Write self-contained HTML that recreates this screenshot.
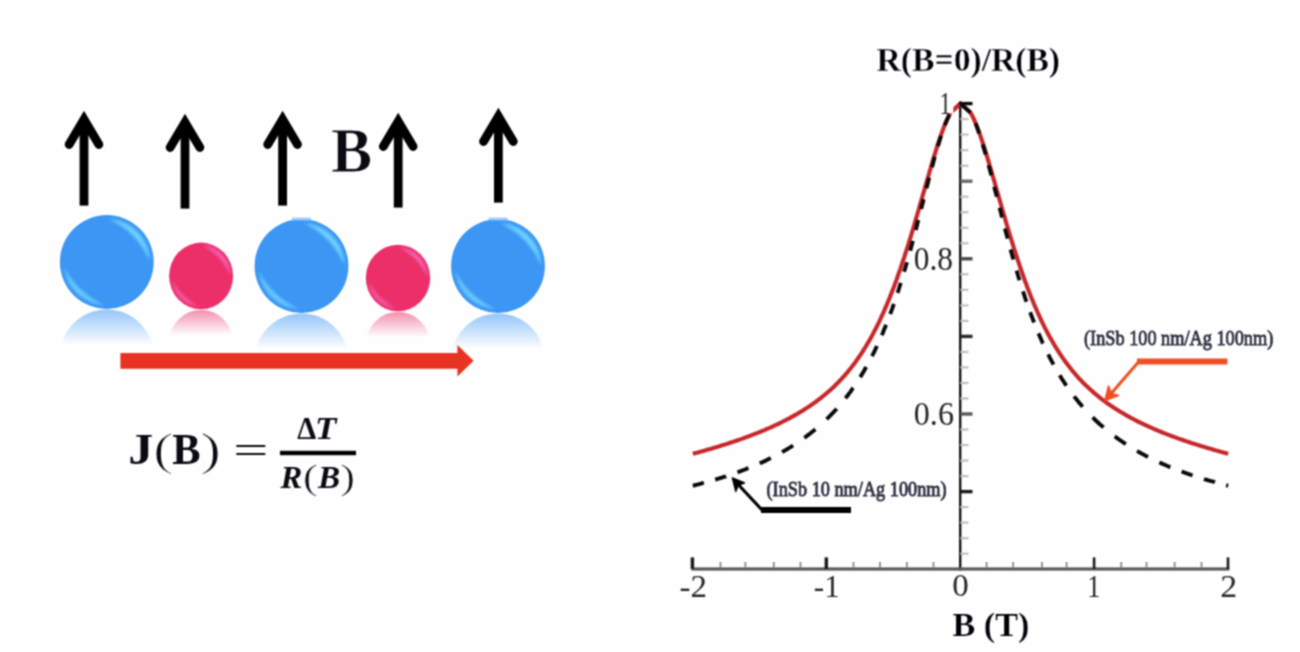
<!DOCTYPE html>
<html lang="en"><head><meta charset="utf-8"><title>Magnetoresistance figure</title>
<style>
html,body{margin:0;padding:0;background:#fefefe;}
body{width:1300px;height:652px;overflow:hidden;}
svg{display:block;}
#fig{width:1300px;height:652px;}
.s{font-family:"Liberation Serif","DejaVu Serif",serif;}
</style></head>
<body>
<div id="fig">
<svg width="1300" height="652" viewBox="0 0 1300 652">
<defs><filter id="bA" filterUnits="userSpaceOnUse" x="0" y="0" width="650" height="652" color-interpolation-filters="sRGB"><feConvolveMatrix order="3" kernelMatrix="1 2 1 2 4 2 1 2 1" divisor="16" edgeMode="duplicate" preserveAlpha="false"/></filter><filter id="bB" filterUnits="userSpaceOnUse" x="650" y="0" width="650" height="652" color-interpolation-filters="sRGB"><feConvolveMatrix order="3" kernelMatrix="1 2 1 2 4 2 1 2 1" divisor="16" edgeMode="duplicate" preserveAlpha="false"/></filter><filter id="bl" x="-20%" y="-20%" width="140%" height="140%" color-interpolation-filters="sRGB"><feGaussianBlur stdDeviation="1.5"/></filter><clipPath id="c0"><circle cx="106.8" cy="262" r="46.9"/></clipPath><linearGradient id="rf0" gradientUnits="userSpaceOnUse" x1="0" y1="308.9" x2="0" y2="344.9"><stop offset="0" stop-color="#3b96f4" stop-opacity="0.55"/><stop offset="1" stop-color="#3b96f4" stop-opacity="0"/></linearGradient><clipPath id="c1"><circle cx="201.1" cy="275.9" r="32.0"/></clipPath><linearGradient id="rf1" gradientUnits="userSpaceOnUse" x1="0" y1="307.9" x2="0" y2="332.9"><stop offset="0" stop-color="#ec2f69" stop-opacity="0.55"/><stop offset="1" stop-color="#ec2f69" stop-opacity="0"/></linearGradient><clipPath id="c2"><circle cx="301.5" cy="266" r="46.9"/></clipPath><linearGradient id="rf2" gradientUnits="userSpaceOnUse" x1="0" y1="312.9" x2="0" y2="348.9"><stop offset="0" stop-color="#3b96f4" stop-opacity="0.55"/><stop offset="1" stop-color="#3b96f4" stop-opacity="0"/></linearGradient><clipPath id="c3"><circle cx="398" cy="278" r="32.2"/></clipPath><linearGradient id="rf3" gradientUnits="userSpaceOnUse" x1="0" y1="310.2" x2="0" y2="335.2"><stop offset="0" stop-color="#ec2f69" stop-opacity="0.55"/><stop offset="1" stop-color="#ec2f69" stop-opacity="0"/></linearGradient><clipPath id="c4"><circle cx="498" cy="266" r="46.9"/></clipPath><linearGradient id="rf4" gradientUnits="userSpaceOnUse" x1="0" y1="312.9" x2="0" y2="348.9"><stop offset="0" stop-color="#3b96f4" stop-opacity="0.55"/><stop offset="1" stop-color="#3b96f4" stop-opacity="0"/></linearGradient></defs>
<rect width="1300" height="652" fill="#fefefe"/>
<g filter="url(#bA)">
<path d="M69.1,144.5 L84.0,119.4 L98.9,144.5" fill="none" stroke="#000" stroke-width="8.8" stroke-linecap="round" stroke-linejoin="miter"/><path d="M84.0,123.0 V205.6" fill="none" stroke="#000" stroke-width="8.8"/>
<path d="M170.1,147.5 L185.0,122.4 L199.9,147.5" fill="none" stroke="#000" stroke-width="8.8" stroke-linecap="round" stroke-linejoin="miter"/><path d="M185.0,126.0 V208.6" fill="none" stroke="#000" stroke-width="8.8"/>
<path d="M267.7,144.5 L282.6,119.4 L297.5,144.5" fill="none" stroke="#000" stroke-width="8.8" stroke-linecap="round" stroke-linejoin="miter"/><path d="M282.6,123.0 V205.6" fill="none" stroke="#000" stroke-width="8.8"/>
<path d="M383.3,146.5 L398.2,121.4 L413.1,146.5" fill="none" stroke="#000" stroke-width="8.8" stroke-linecap="round" stroke-linejoin="miter"/><path d="M398.2,125.0 V207.6" fill="none" stroke="#000" stroke-width="8.8"/>
<path d="M483.5,141.5 L498.4,116.4 L513.3,141.5" fill="none" stroke="#000" stroke-width="8.8" stroke-linecap="round" stroke-linejoin="miter"/><path d="M498.4,120.0 V202.6" fill="none" stroke="#000" stroke-width="8.8"/>
<g><circle cx="106.8" cy="262" r="46.9" fill="#3b96f4"/><g clip-path="url(#c0)" filter="url(#bl)"><path d="M109.0,219.1 L111.7,219.4 L114.4,219.8 L117.0,220.3 L119.6,221.0 L122.1,221.9 L124.6,223.0 L127.0,224.1 L129.3,225.5 L131.6,227.0 L133.7,228.6 L135.7,230.3 L137.7,232.2 L139.5,234.2 L141.1,236.3 L142.7,238.5 L144.1,240.8 L145.3,243.1 L146.4,245.6 L147.4,248.1 L148.2,250.7 L148.8,253.3 L149.3,255.9 L149.6,258.6 L149.7,261.3 L149.7,261.3 L148.7,259.0 L147.7,256.7 L146.6,254.4 L145.4,252.3 L144.1,250.1 L142.8,248.0 L141.4,245.9 L139.9,243.9 L138.4,241.9 L136.8,240.0 L135.2,238.1 L133.5,236.3 L131.7,234.5 L129.9,232.8 L128.0,231.1 L126.1,229.5 L124.1,228.0 L122.1,226.5 L120.0,225.1 L117.9,223.8 L115.7,222.5 L113.5,221.3 L111.3,220.2 L109.0,219.1Z" fill="#6ed0ff"/><path d="M104.6,304.9 L102.1,304.7 L99.6,304.3 L97.1,303.8 L94.7,303.2 L92.4,302.4 L90.0,301.5 L87.8,300.5 L85.6,299.3 L83.4,298.0 L81.4,296.6 L79.4,295.0 L77.5,293.4 L75.8,291.6 L74.1,289.8 L72.5,287.8 L71.1,285.8 L69.8,283.7 L68.6,281.5 L67.5,279.2 L66.6,276.9 L65.8,274.5 L65.1,272.1 L64.6,269.7 L64.2,267.2 L64.2,267.2 L65.3,269.3 L66.4,271.4 L67.6,273.4 L68.9,275.4 L70.2,277.3 L71.5,279.2 L73.0,281.1 L74.5,282.9 L76.0,284.7 L77.6,286.4 L79.2,288.1 L80.9,289.7 L82.7,291.3 L84.5,292.8 L86.3,294.3 L88.2,295.7 L90.1,297.1 L92.1,298.4 L94.1,299.6 L96.1,300.8 L98.2,301.9 L100.3,302.9 L102.4,303.9 L104.6,304.9Z" fill="#6ed0ff" opacity="0.9"/></g><circle cx="106.8" cy="356.40000000000003" r="46.9" fill="url(#rf0)"/></g>
<g transform="translate(201.1,275.9) scale(1,1.04) translate(-201.1,-275.9)"><circle cx="201.1" cy="275.9" r="32.0" fill="#ec2f69"/><g clip-path="url(#c1)" filter="url(#bl)"><path d="M202.6,246.7 L204.5,246.8 L206.3,247.1 L208.1,247.5 L209.8,247.9 L211.6,248.5 L213.2,249.3 L214.9,250.1 L216.5,251.0 L218.0,252.0 L219.5,253.1 L220.8,254.3 L222.2,255.6 L223.4,256.9 L224.5,258.3 L225.6,259.8 L226.5,261.4 L227.4,263.0 L228.2,264.7 L228.8,266.4 L229.3,268.2 L229.8,269.9 L230.1,271.7 L230.3,273.6 L230.4,275.4 L230.4,275.4 L229.7,273.8 L229.0,272.3 L228.2,270.7 L227.4,269.2 L226.6,267.8 L225.6,266.3 L224.7,264.9 L223.7,263.5 L222.7,262.2 L221.6,260.9 L220.4,259.6 L219.3,258.3 L218.1,257.1 L216.8,256.0 L215.6,254.8 L214.2,253.7 L212.9,252.7 L211.5,251.7 L210.1,250.7 L208.7,249.8 L207.2,249.0 L205.7,248.2 L204.2,247.4 L202.6,246.7Z" fill="#f564b8"/><path d="M199.6,305.1 L197.9,305.0 L196.2,304.8 L194.5,304.4 L192.9,304.0 L191.2,303.5 L189.7,302.9 L188.1,302.1 L186.6,301.3 L185.2,300.5 L183.8,299.5 L182.4,298.4 L181.1,297.3 L179.9,296.1 L178.8,294.9 L177.7,293.5 L176.7,292.1 L175.8,290.7 L175.0,289.2 L174.3,287.7 L173.6,286.1 L173.1,284.5 L172.6,282.8 L172.3,281.2 L172.0,279.5 L172.0,279.5 L172.8,280.9 L173.5,282.3 L174.4,283.7 L175.2,285.0 L176.1,286.4 L177.0,287.7 L178.0,288.9 L179.0,290.2 L180.1,291.4 L181.2,292.6 L182.3,293.7 L183.4,294.8 L184.6,295.9 L185.9,296.9 L187.1,297.9 L188.4,298.9 L189.7,299.8 L191.0,300.7 L192.4,301.6 L193.8,302.4 L195.2,303.1 L196.6,303.8 L198.1,304.5 L199.6,305.1Z" fill="#f564b8" opacity="0.9"/></g><circle cx="201.1" cy="340.5" r="32.0" fill="url(#rf1)"/></g>
<g><circle cx="301.5" cy="266" r="46.9" fill="#3b96f4"/><g clip-path="url(#c2)" filter="url(#bl)"><path d="M303.7,223.1 L306.4,223.4 L309.1,223.8 L311.7,224.3 L314.3,225.0 L316.8,225.9 L319.3,227.0 L321.7,228.1 L324.0,229.5 L326.3,231.0 L328.4,232.6 L330.4,234.3 L332.4,236.2 L334.2,238.2 L335.8,240.3 L337.4,242.5 L338.8,244.8 L340.0,247.1 L341.1,249.6 L342.1,252.1 L342.9,254.7 L343.5,257.3 L344.0,259.9 L344.3,262.6 L344.4,265.3 L344.4,265.3 L343.4,263.0 L342.4,260.7 L341.3,258.4 L340.1,256.3 L338.8,254.1 L337.5,252.0 L336.1,249.9 L334.6,247.9 L333.1,245.9 L331.5,244.0 L329.9,242.1 L328.2,240.3 L326.4,238.5 L324.6,236.8 L322.7,235.1 L320.8,233.5 L318.8,232.0 L316.8,230.5 L314.7,229.1 L312.6,227.8 L310.4,226.5 L308.2,225.3 L306.0,224.2 L303.7,223.1Z" fill="#6ed0ff"/><path d="M299.3,308.9 L296.8,308.7 L294.3,308.3 L291.8,307.8 L289.4,307.2 L287.1,306.4 L284.7,305.5 L282.5,304.5 L280.3,303.3 L278.1,302.0 L276.1,300.6 L274.1,299.0 L272.2,297.4 L270.5,295.6 L268.8,293.8 L267.2,291.8 L265.8,289.8 L264.5,287.7 L263.3,285.5 L262.2,283.2 L261.3,280.9 L260.5,278.5 L259.8,276.1 L259.3,273.7 L258.9,271.2 L258.9,271.2 L260.0,273.3 L261.1,275.4 L262.3,277.4 L263.6,279.4 L264.9,281.3 L266.2,283.2 L267.7,285.1 L269.2,286.9 L270.7,288.7 L272.3,290.4 L273.9,292.1 L275.6,293.7 L277.4,295.3 L279.2,296.8 L281.0,298.3 L282.9,299.7 L284.8,301.1 L286.8,302.4 L288.8,303.6 L290.8,304.8 L292.9,305.9 L295.0,306.9 L297.1,307.9 L299.3,308.9Z" fill="#6ed0ff" opacity="0.9"/></g><circle cx="301.5" cy="360.40000000000003" r="46.9" fill="url(#rf2)"/></g>
<g transform="translate(398,278) scale(1,1.03) translate(-398,-278)"><circle cx="398" cy="278" r="32.2" fill="#ec2f69"/><g clip-path="url(#c3)" filter="url(#bl)"><path d="M399.5,248.6 L401.4,248.7 L403.2,249.0 L405.0,249.4 L406.8,249.9 L408.5,250.5 L410.2,251.2 L411.9,252.0 L413.5,252.9 L415.0,253.9 L416.5,255.0 L417.9,256.2 L419.2,257.5 L420.4,258.9 L421.6,260.3 L422.6,261.8 L423.6,263.4 L424.5,265.0 L425.2,266.7 L425.9,268.4 L426.4,270.2 L426.8,272.0 L427.2,273.8 L427.4,275.6 L427.5,277.5 L427.5,277.5 L426.8,275.9 L426.1,274.3 L425.3,272.8 L424.5,271.3 L423.6,269.8 L422.7,268.4 L421.7,266.9 L420.7,265.6 L419.7,264.2 L418.6,262.9 L417.5,261.6 L416.3,260.3 L415.1,259.1 L413.8,257.9 L412.6,256.8 L411.2,255.7 L409.9,254.7 L408.5,253.6 L407.1,252.7 L405.6,251.8 L404.1,250.9 L402.6,250.1 L401.1,249.3 L399.5,248.6Z" fill="#f564b8"/><path d="M396.5,307.4 L394.7,307.3 L393.1,307.0 L391.4,306.7 L389.7,306.3 L388.1,305.7 L386.5,305.1 L384.9,304.4 L383.4,303.6 L382.0,302.7 L380.5,301.7 L379.2,300.7 L377.9,299.5 L376.7,298.3 L375.5,297.1 L374.5,295.7 L373.5,294.3 L372.6,292.9 L371.7,291.4 L371.0,289.8 L370.4,288.2 L369.8,286.6 L369.4,285.0 L369.0,283.3 L368.8,281.6 L368.8,281.6 L369.5,283.0 L370.3,284.4 L371.1,285.8 L372.0,287.2 L372.9,288.5 L373.8,289.8 L374.8,291.1 L375.8,292.4 L376.9,293.6 L377.9,294.8 L379.1,295.9 L380.2,297.0 L381.4,298.1 L382.7,299.2 L383.9,300.2 L385.2,301.2 L386.5,302.1 L387.9,303.0 L389.2,303.8 L390.6,304.6 L392.1,305.4 L393.5,306.1 L395.0,306.8 L396.5,307.4Z" fill="#f564b8" opacity="0.9"/></g><circle cx="398" cy="343.0" r="32.2" fill="url(#rf3)"/></g>
<g><circle cx="498" cy="266" r="46.9" fill="#3b96f4"/><g clip-path="url(#c4)" filter="url(#bl)"><path d="M500.2,223.1 L502.9,223.4 L505.6,223.8 L508.2,224.3 L510.8,225.0 L513.3,225.9 L515.8,227.0 L518.2,228.1 L520.5,229.5 L522.8,231.0 L524.9,232.6 L526.9,234.3 L528.9,236.2 L530.7,238.2 L532.3,240.3 L533.9,242.5 L535.3,244.8 L536.5,247.1 L537.6,249.6 L538.6,252.1 L539.4,254.7 L540.0,257.3 L540.5,259.9 L540.8,262.6 L540.9,265.3 L540.9,265.3 L539.9,263.0 L538.9,260.7 L537.8,258.4 L536.6,256.3 L535.3,254.1 L534.0,252.0 L532.6,249.9 L531.1,247.9 L529.6,245.9 L528.0,244.0 L526.4,242.1 L524.7,240.3 L522.9,238.5 L521.1,236.8 L519.2,235.1 L517.3,233.5 L515.3,232.0 L513.3,230.5 L511.2,229.1 L509.1,227.8 L506.9,226.5 L504.7,225.3 L502.5,224.2 L500.2,223.1Z" fill="#6ed0ff"/><path d="M495.8,308.9 L493.3,308.7 L490.8,308.3 L488.3,307.8 L485.9,307.2 L483.6,306.4 L481.2,305.5 L479.0,304.5 L476.8,303.3 L474.6,302.0 L472.6,300.6 L470.6,299.0 L468.7,297.4 L467.0,295.6 L465.3,293.8 L463.7,291.8 L462.3,289.8 L461.0,287.7 L459.8,285.5 L458.7,283.2 L457.8,280.9 L457.0,278.5 L456.3,276.1 L455.8,273.7 L455.4,271.2 L455.4,271.2 L456.5,273.3 L457.6,275.4 L458.8,277.4 L460.1,279.4 L461.4,281.3 L462.7,283.2 L464.2,285.1 L465.7,286.9 L467.2,288.7 L468.8,290.4 L470.4,292.1 L472.1,293.7 L473.9,295.3 L475.7,296.8 L477.5,298.3 L479.4,299.7 L481.3,301.1 L483.3,302.4 L485.3,303.6 L487.3,304.8 L489.4,305.9 L491.5,306.9 L493.6,307.9 L495.8,308.9Z" fill="#6ed0ff" opacity="0.9"/></g><circle cx="498" cy="360.40000000000003" r="46.9" fill="url(#rf4)"/></g>
<rect x="277.5" y="215" width="48" height="5.1" fill="#fefefe"/><rect x="292.0" y="217.6" width="19" height="2.6" fill="#9ccdf9"/>
<rect x="474.0" y="215" width="48" height="5.1" fill="#fefefe"/><rect x="488.5" y="217.6" width="19" height="2.6" fill="#9ccdf9"/>
<path d="M120.4,353 H457.4 V345 L473.6,360.8 L457.4,376.5 V368.7 H120.4 Z" fill="#e83222"/>
<text transform="translate(331.02,172.45) scale(0.9655,1)" font-size="63.97" font-weight="bold" class="s" fill="#0a0a12" stroke="#fefefe" stroke-width="0.90">B</text>
<text transform="translate(128.25,464.45) scale(1.1186,1)" font-size="44.70" font-weight="bold" class="s" fill="#0a0a12">J</text><text transform="translate(152.94,465.46) scale(1.3235,1)" font-size="47.11" class="s" fill="#0a0a12" stroke="#fefefe" stroke-width="1.10">(</text><text transform="translate(172.26,464.30) scale(0.9610,1)" font-size="44.12" font-weight="bold" class="s" fill="#0a0a12">B</text><text transform="translate(200.18,465.40) scale(1.3288,1)" font-size="46.89" class="s" fill="#0a0a12" stroke="#fefefe" stroke-width="0.90">)</text><text transform="translate(233.19,462.71) scale(1.6529,1)" font-size="37.60" class="s" fill="#0a0a12">=</text><rect x="280" y="450.8" width="76" height="4.4" fill="#000"/><text transform="translate(297.15,439.00) scale(0.9573,1)" font-size="31.60" font-weight="bold" class="s" fill="#0a0a12">Δ</text><text transform="translate(315.07,439.00) scale(1.1018,1)" font-size="31.85" font-weight="bold" font-style="italic" class="s" fill="#0a0a12">T</text><text transform="translate(280.40,488.00) scale(1.0268,1)" font-size="31.85" font-weight="bold" font-style="italic" class="s" fill="#0a0a12">R</text><text transform="translate(302.77,489.09) scale(1.2854,1)" font-size="36.00" class="s" fill="#0a0a12" stroke="#fefefe" stroke-width="0.70">(</text><text transform="translate(318.03,488.00) scale(1.0531,1)" font-size="31.60" font-weight="bold" font-style="italic" class="s" fill="#0a0a12">B</text><text transform="translate(340.09,489.09) scale(1.2607,1)" font-size="36.00" class="s" fill="#0a0a12" stroke="#fefefe" stroke-width="0.70">)</text>
</g>
<g filter="url(#bB)">
<text transform="translate(876.58,71.43) scale(0.9691,1)" font-size="34.71" font-weight="bold" class="s" fill="#000008" stroke="#fefefe" stroke-width="0.44">R(B=0)/R(B)</text><text transform="translate(952.47,635.60) scale(0.9941,1)" font-size="34.38" font-weight="bold" class="s" fill="#000008" stroke="#fefefe" stroke-width="0.24">B (T)</text><rect x="959.00" y="102" width="2.4" height="468.5" fill="#141414"/><rect x="691.4" y="567.4" width="538" height="3.2" fill="#5a5a5a"/><rect x="960.2" y="101.9" width="12.3" height="3.4" fill="#0a0a0a"/><rect x="960.2" y="118.0" width="8.2" height="2.2" fill="#c0c0c0"/><rect x="960.2" y="133.5" width="8.2" height="2.2" fill="#c0c0c0"/><rect x="960.2" y="149.1" width="8.2" height="2.2" fill="#c0c0c0"/><rect x="960.2" y="164.6" width="8.2" height="2.2" fill="#c0c0c0"/><rect x="960.2" y="179.5" width="12.3" height="3.4" fill="#6a6a6a"/><rect x="960.2" y="195.6" width="8.2" height="2.2" fill="#c0c0c0"/><rect x="960.2" y="211.1" width="8.2" height="2.2" fill="#c0c0c0"/><rect x="960.2" y="226.7" width="8.2" height="2.2" fill="#c0c0c0"/><rect x="960.2" y="242.2" width="8.2" height="2.2" fill="#c0c0c0"/><rect x="960.2" y="257.1" width="12.3" height="3.4" fill="#4a4a4a"/><rect x="960.2" y="273.2" width="8.2" height="2.2" fill="#c0c0c0"/><rect x="960.2" y="288.7" width="8.2" height="2.2" fill="#c0c0c0"/><rect x="960.2" y="304.3" width="8.2" height="2.2" fill="#c0c0c0"/><rect x="960.2" y="319.8" width="8.2" height="2.2" fill="#c0c0c0"/><rect x="960.2" y="334.7" width="12.3" height="3.4" fill="#2a2a2a"/><rect x="960.2" y="350.8" width="8.2" height="2.2" fill="#c0c0c0"/><rect x="960.2" y="366.3" width="8.2" height="2.2" fill="#c0c0c0"/><rect x="960.2" y="381.9" width="8.2" height="2.2" fill="#c0c0c0"/><rect x="960.2" y="397.4" width="8.2" height="2.2" fill="#c0c0c0"/><rect x="960.2" y="412.3" width="12.3" height="3.4" fill="#5a5a5a"/><rect x="960.2" y="428.4" width="8.2" height="2.2" fill="#c0c0c0"/><rect x="960.2" y="443.9" width="8.2" height="2.2" fill="#c0c0c0"/><rect x="960.2" y="459.5" width="8.2" height="2.2" fill="#c0c0c0"/><rect x="960.2" y="475.0" width="8.2" height="2.2" fill="#c0c0c0"/><rect x="960.2" y="489.9" width="12.3" height="3.4" fill="#1a1a1a"/><rect x="960.2" y="506.0" width="8.2" height="2.2" fill="#c0c0c0"/><rect x="960.2" y="521.5" width="8.2" height="2.2" fill="#c0c0c0"/><rect x="960.2" y="537.1" width="8.2" height="2.2" fill="#c0c0c0"/><rect x="960.2" y="552.6" width="8.2" height="2.2" fill="#c0c0c0"/><rect x="690.7" y="557.4" width="3.4" height="11.5" fill="#1a1a1a"/><rect x="824.6" y="557.4" width="3.4" height="11.5" fill="#1a1a1a"/><rect x="1092.8" y="557.4" width="2.6" height="11.5" fill="#1a1a1a"/><rect x="1226.7" y="557.4" width="2.6" height="11.5" fill="#1a1a1a"/><rect x="719.6" y="562" width="1.8" height="6" fill="#8a8a8a"/><rect x="744.5" y="562" width="1.8" height="6" fill="#8a8a8a"/><rect x="772.9" y="562" width="1.8" height="6" fill="#8a8a8a"/><rect x="799.6" y="562" width="1.8" height="6" fill="#8a8a8a"/><rect x="852.6" y="562" width="1.8" height="6" fill="#8a8a8a"/><rect x="879.1" y="562" width="1.8" height="6" fill="#8a8a8a"/><rect x="906.0" y="562" width="1.8" height="6" fill="#8a8a8a"/><rect x="932.6" y="562" width="1.8" height="6" fill="#8a8a8a"/><rect x="985.7" y="562" width="1.8" height="6" fill="#8a8a8a"/><rect x="1012.2" y="562" width="1.8" height="6" fill="#8a8a8a"/><rect x="1041.1" y="562" width="1.8" height="6" fill="#8a8a8a"/><rect x="1065.7" y="562" width="1.8" height="6" fill="#8a8a8a"/><rect x="1120.3" y="562" width="1.8" height="6" fill="#8a8a8a"/><rect x="1145.6" y="562" width="1.8" height="6" fill="#8a8a8a"/><rect x="1173.7" y="562" width="1.8" height="6" fill="#8a8a8a"/><rect x="1200.6" y="562" width="1.8" height="6" fill="#8a8a8a"/><text transform="translate(913.81,270.41) scale(0.9485,1)" font-size="33.12" class="s" fill="#262626">0.8</text><text transform="translate(913.80,425.41) scale(0.9662,1)" font-size="33.26" class="s" fill="#262626">0.6</text><text transform="translate(679.56,597.03) scale(1.0181,1)" font-size="32.35" class="s" fill="#262626">-2</text><text transform="translate(813.81,597.03) scale(0.9522,1)" font-size="32.60" class="s" fill="#262626">-1</text><text transform="translate(952.36,596.42) scale(1.0565,1)" font-size="31.20" class="s" fill="#262626">0</text><text transform="translate(1087.23,597.00) scale(0.8083,1)" font-size="32.52" class="s" fill="#262626">1</text><text transform="translate(1220.15,597.03) scale(1.0473,1)" font-size="32.35" class="s" fill="#262626">2</text><path d="M692.8,453.8 L694.1,453.4 L695.5,453.1 L696.8,452.7 L698.2,452.4 L699.5,452.0 L700.8,451.6 L702.2,451.2 L703.5,450.9 L704.8,450.5 L706.2,450.1 L707.5,449.7 L708.9,449.3 L710.2,449.0 L711.5,448.6 L712.9,448.2 L714.2,447.8 L715.6,447.4 L716.9,447.0 L718.2,446.6 L719.6,446.2 L720.9,445.7 L722.2,445.3 L723.6,444.9 L724.9,444.5 L726.3,444.1 L727.6,443.6 L728.9,443.2 L730.3,442.7 L731.6,442.3 L733.0,441.9 L734.3,441.4 L735.6,441.0 L737.0,440.5 L738.3,440.0 L739.6,439.6 L741.0,439.1 L742.3,438.6 L743.7,438.2 L745.0,437.7 L746.3,437.2 L747.7,436.7 L749.0,436.2 L750.4,435.7 L751.7,435.2 L753.0,434.7 L754.4,434.1 L755.7,433.6 L757.0,433.1 L758.4,432.6 L759.7,432.0 L761.1,431.5 L762.4,430.9 L763.7,430.4 L765.1,429.8 L766.4,429.2 L767.8,428.6 L769.1,428.1 L770.4,427.5 L771.8,426.9 L773.1,426.3 L774.4,425.7 L775.8,425.0 L777.1,424.4 L778.5,423.8 L779.8,423.1 L781.1,422.5 L782.5,421.8 L783.8,421.1 L785.2,420.5 L786.5,419.8 L787.8,419.1 L789.2,418.4 L790.5,417.6 L791.8,416.9 L793.2,416.2 L794.5,415.4 L795.9,414.7 L797.2,413.9 L798.5,413.1 L799.9,412.3 L801.2,411.5 L802.6,410.7 L803.9,409.8 L805.2,409.0 L806.6,408.1 L807.9,407.3 L809.2,406.4 L810.6,405.5 L811.9,404.5 L813.3,403.6 L814.6,402.6 L815.9,401.7 L817.3,400.7 L818.6,399.7 L820.0,398.6 L821.3,397.6 L822.6,396.5 L824.0,395.4 L825.3,394.3 L826.6,393.2 L828.0,392.0 L829.3,390.9 L830.7,389.7 L832.0,388.4 L833.3,387.2 L834.7,385.9 L836.0,384.6 L837.4,383.3 L838.7,381.9 L840.0,380.5 L841.4,379.1 L842.7,377.6 L844.1,376.1 L845.4,374.6 L846.7,373.1 L848.1,371.5 L849.4,369.8 L850.7,368.2 L852.1,366.5 L853.4,364.7 L854.8,362.9 L856.1,361.1 L857.4,359.2 L858.8,357.3 L860.1,355.4 L861.5,353.4 L862.8,351.3 L864.1,349.2 L865.5,347.0 L866.8,344.8 L868.1,342.6 L869.5,340.2 L870.8,337.9 L872.2,335.4 L873.5,332.9 L874.8,330.4 L876.2,327.8 L877.5,325.1 L878.9,322.3 L880.2,319.5 L881.5,316.7 L882.9,313.7 L884.2,310.7 L885.5,307.6 L886.9,304.5 L888.2,301.3 L889.6,298.0 L890.9,294.6 L892.2,291.2 L893.6,287.7 L894.9,284.1 L896.3,280.4 L897.6,276.7 L898.9,272.9 L900.3,269.1 L901.6,265.1 L902.9,261.1 L904.3,257.1 L905.6,252.9 L907.0,248.7 L908.3,244.5 L909.6,240.1 L911.0,235.8 L912.3,231.3 L913.7,226.9 L915.0,222.3 L916.3,217.8 L917.7,213.2 L919.0,208.5 L920.3,203.9 L921.7,199.2 L923.0,194.5 L924.4,189.8 L925.7,185.1 L927.0,180.5 L928.4,175.8 L929.7,171.2 L931.1,166.6 L932.4,162.1 L933.7,157.6 L935.1,153.2 L936.4,148.9 L937.7,144.7 L939.1,140.6 L940.4,136.6 L941.8,132.8 L943.1,129.2 L944.4,125.7 L945.8,122.4 L947.1,119.3 L948.5,116.5 L949.8,113.9 L950.5,112.6 L951.1,112.0 L952.5,110.8 L953.8,109.6 L955.1,108.4 L956.5,107.2 L957.8,106.0 L959.2,104.8 L960.5,103.6 L960.5,103.6 L961.8,104.8 L963.2,106.0 L964.5,107.2 L965.9,108.4 L967.2,109.6 L968.5,110.7 L969.9,111.9 L970.5,112.6 L971.2,113.7 L972.5,116.3 L973.9,119.1 L975.2,122.2 L976.6,125.4 L977.9,128.9 L979.2,132.5 L980.6,136.3 L981.9,140.3 L983.3,144.4 L984.6,148.6 L985.9,152.9 L987.3,157.3 L988.6,161.7 L989.9,166.3 L991.3,170.8 L992.6,175.5 L994.0,180.1 L995.3,184.8 L996.6,189.5 L998.0,194.2 L999.3,198.9 L1000.7,203.5 L1002.0,208.2 L1003.3,212.8 L1004.7,217.4 L1006.0,222.0 L1007.3,226.5 L1008.7,231.0 L1010.0,235.4 L1011.4,239.8 L1012.7,244.1 L1014.0,248.4 L1015.4,252.6 L1016.7,256.7 L1018.1,260.8 L1019.4,264.8 L1020.7,268.8 L1022.1,272.6 L1023.4,276.4 L1024.7,280.2 L1026.1,283.8 L1027.4,287.4 L1028.8,290.9 L1030.1,294.4 L1031.4,297.7 L1032.8,301.0 L1034.1,304.2 L1035.5,307.4 L1036.8,310.5 L1038.1,313.5 L1039.5,316.4 L1040.8,319.3 L1042.1,322.1 L1043.5,324.9 L1044.8,327.6 L1046.2,330.2 L1047.5,332.7 L1048.8,335.2 L1050.2,337.7 L1051.5,340.1 L1052.9,342.4 L1054.2,344.7 L1055.5,346.9 L1056.9,349.0 L1058.2,351.1 L1059.5,353.2 L1060.9,355.2 L1062.2,357.2 L1063.6,359.1 L1064.9,361.0 L1066.2,362.8 L1067.6,364.6 L1068.9,366.3 L1070.3,368.1 L1071.6,369.7 L1072.9,371.4 L1074.3,372.9 L1075.6,374.5 L1076.9,376.0 L1078.3,377.5 L1079.6,379.0 L1081.0,380.4 L1082.3,381.8 L1083.6,383.2 L1085.0,384.5 L1086.3,385.8 L1087.7,387.1 L1089.0,388.3 L1090.3,389.6 L1091.7,390.8 L1093.0,391.9 L1094.3,393.1 L1095.7,394.2 L1097.0,395.3 L1098.4,396.4 L1099.7,397.5 L1101.0,398.6 L1102.4,399.6 L1103.7,400.6 L1105.1,401.6 L1106.4,402.6 L1107.7,403.5 L1109.1,404.5 L1110.4,405.4 L1111.8,406.3 L1113.1,407.2 L1114.4,408.1 L1115.8,408.9 L1117.1,409.8 L1118.4,410.6 L1119.8,411.4 L1121.1,412.3 L1122.5,413.0 L1123.8,413.8 L1125.1,414.6 L1126.5,415.4 L1127.8,416.1 L1129.2,416.9 L1130.5,417.6 L1131.8,418.3 L1133.2,419.0 L1134.5,419.7 L1135.8,420.4 L1137.2,421.1 L1138.5,421.8 L1139.9,422.4 L1141.2,423.1 L1142.5,423.7 L1143.9,424.4 L1145.2,425.0 L1146.6,425.6 L1147.9,426.2 L1149.2,426.8 L1150.6,427.4 L1151.9,428.0 L1153.2,428.6 L1154.6,429.2 L1155.9,429.8 L1157.3,430.3 L1158.6,430.9 L1159.9,431.4 L1161.3,432.0 L1162.6,432.5 L1164.0,433.1 L1165.3,433.6 L1166.6,434.1 L1168.0,434.6 L1169.3,435.1 L1170.6,435.6 L1172.0,436.2 L1173.3,436.6 L1174.7,437.1 L1176.0,437.6 L1177.3,438.1 L1178.7,438.6 L1180.0,439.1 L1181.4,439.5 L1182.7,440.0 L1184.0,440.5 L1185.4,440.9 L1186.7,441.4 L1188.0,441.8 L1189.4,442.3 L1190.7,442.7 L1192.1,443.2 L1193.4,443.6 L1194.7,444.0 L1196.1,444.4 L1197.4,444.9 L1198.8,445.3 L1200.1,445.7 L1201.4,446.1 L1202.8,446.5 L1204.1,446.9 L1205.4,447.3 L1206.8,447.7 L1208.1,448.1 L1209.5,448.5 L1210.8,448.9 L1212.1,449.3 L1213.5,449.7 L1214.8,450.1 L1216.2,450.5 L1217.5,450.8 L1218.8,451.2 L1220.2,451.6 L1221.5,452.0 L1222.8,452.3 L1224.2,452.7 L1225.5,453.1 L1226.9,453.4 L1228.2,453.8" fill="none" stroke="#c6282b" stroke-width="4.1" stroke-linejoin="miter"/><path d="M692.8,485.7 L693.9,485.5 L694.9,485.2 L696.0,484.9 L697.1,484.6 L698.2,484.4 L699.2,484.1 L700.3,483.8 L701.4,483.5 L702.4,483.2 L703.5,482.9 L703.9,482.8M715.2,479.6 L716.2,479.3 L717.3,479.0 L718.4,478.7 L719.4,478.3 L720.5,478.0 L721.6,477.7 L722.6,477.3 L723.7,477.0 L724.8,476.6 L725.9,476.3 L726.1,476.2M737.5,472.3 L738.6,471.9 L739.6,471.5 L740.7,471.1 L741.8,470.7 L742.9,470.3 L743.9,469.9 L745.0,469.5 L746.1,469.0 L747.1,468.6 L748.2,468.2 L748.5,468.1M759.7,463.3 L760.8,462.8 L761.9,462.4 L762.9,461.9 L764.0,461.4 L765.1,460.9 L766.1,460.4 L767.2,459.8 L768.3,459.3 L769.4,458.8 L770.4,458.3 L770.8,458.1M782.1,452.1 L783.1,451.5 L784.2,450.9 L785.3,450.3 L786.4,449.6 L787.4,449.0 L788.5,448.4 L789.6,447.7 L790.6,447.1 L791.7,446.4 L792.8,445.7 L793.1,445.5M804.4,437.8 L805.5,437.0 L806.6,436.2 L807.6,435.4 L808.7,434.6 L809.8,433.8 L810.9,432.9 L811.9,432.1 L813.0,431.2 L814.1,430.4 L815.1,429.5 L815.4,429.3M826.6,419.2 L827.7,418.1 L828.8,417.1 L829.9,416.0 L830.9,414.9 L832.0,413.8 L833.1,412.7 L834.1,411.5 L835.2,410.4 L836.3,409.2 L836.7,408.7M845.5,398.2 L846.6,396.8 L847.7,395.5 L848.7,394.0 L849.8,392.6 L850.9,391.1 L851.9,389.6 L853.0,388.1 L853.2,387.9M860.2,377.1 L861.3,375.4 L862.4,373.6 L863.5,371.8 L864.5,370.0 L865.6,368.1 L866.3,366.9M872.0,356.2 L873.1,354.0 L874.2,351.9 L875.2,349.7 L876.3,347.4 L877.0,346.0M881.8,335.2 L882.9,332.7 L883.9,330.1 L885.0,327.5 L886.1,324.8 L886.1,324.8M890.2,314.0 L891.3,311.1 L892.4,308.1 L893.4,305.1 L893.8,303.9M897.6,292.8 L898.7,289.5 L899.7,286.2 L900.8,282.8 L900.8,282.8M904.1,271.8 L905.2,268.2 L906.3,264.5 L907.0,262.2M910.2,250.8 L911.2,246.9 L912.3,242.9 L912.8,240.9M915.8,229.9 L916.9,225.8 L917.9,221.6 L918.3,220.1M921.1,209.1 L922.2,204.9 L923.3,200.7 L923.7,199.2M926.5,188.2 L927.6,184.0 L928.6,179.9 L929.2,177.8M932.0,167.1 L933.1,163.2 L934.1,159.2 L934.8,156.8M937.9,146.1 L939.0,142.6 L940.0,139.2 L941.1,135.8 L941.1,135.8M944.8,125.2 L945.9,122.5 L947.0,120.0 L948.1,117.6 L949.1,115.3 L949.4,114.8M959.6,104.5 L960.5,103.6 L961.6,104.5 L962.6,105.5 L963.7,106.5 L964.8,107.4 L965.9,108.4 L966.9,109.4 L968.0,110.3 L969.1,111.3 L970.1,112.3 L970.5,112.6M975.5,123.3 L976.6,126.0 L977.6,128.9 L978.7,132.0 L979.2,133.5M982.7,144.5 L983.8,148.1 L984.9,151.7 L985.7,154.6M988.6,165.3 L989.7,169.3 L990.8,173.3 L991.3,175.4M994.2,186.7 L995.3,190.9 L996.4,195.1 L996.8,196.7M999.6,207.7 L1000.7,211.9 L1001.7,216.1 L1002.1,217.6M1004.9,228.4 L1006.0,232.5 L1007.1,236.6 L1007.6,238.6M1010.6,249.4 L1011.6,253.3 L1012.7,257.1 L1013.4,259.5M1016.6,270.6 L1017.7,274.2 L1018.7,277.7 L1019.5,280.3M1023.0,291.3 L1024.1,294.6 L1025.1,297.8 L1026.2,300.9 L1026.5,301.7M1030.2,312.3 L1031.3,315.2 L1032.4,318.0 L1033.4,320.8 L1034.1,322.5M1038.5,333.4 L1039.6,335.9 L1040.7,338.4 L1041.7,340.8 L1042.8,343.2 L1043.0,343.5M1048.2,354.4 L1049.2,356.5 L1050.3,358.6 L1051.4,360.6 L1052.5,362.6 L1053.5,364.6 L1053.5,364.6M1059.7,375.2 L1060.8,377.0 L1061.8,378.7 L1062.9,380.4 L1064.0,382.0 L1065.0,383.6 L1066.1,385.2 L1066.4,385.6M1074.1,396.4 L1075.2,397.8 L1076.3,399.1 L1077.4,400.4 L1078.4,401.8 L1079.5,403.1 L1080.6,404.3 L1081.6,405.6 L1082.6,406.7M1092.6,417.4 L1093.7,418.4 L1094.8,419.5 L1095.8,420.5 L1096.9,421.5 L1098.0,422.5 L1099.0,423.5 L1100.1,424.4 L1101.2,425.4 L1102.2,426.3 L1103.3,427.2 L1103.5,427.4M1114.7,436.4 L1115.8,437.1 L1116.8,437.9 L1117.9,438.7 L1119.0,439.5 L1120.0,440.2 L1121.1,441.0 L1122.2,441.7 L1123.3,442.4 L1124.3,443.1 L1125.4,443.8 L1125.8,444.1M1137.0,451.0 L1138.1,451.6 L1139.2,452.2 L1140.3,452.8 L1141.3,453.4 L1142.4,454.0 L1143.5,454.6 L1144.5,455.1 L1145.6,455.7 L1146.7,456.2 L1147.8,456.8 L1148.0,456.9M1159.4,462.4 L1160.5,462.9 L1161.5,463.4 L1162.6,463.9 L1163.7,464.3 L1164.8,464.8 L1165.8,465.3 L1166.9,465.7 L1168.0,466.2 L1169.0,466.6 L1170.1,467.1 L1170.4,467.2M1181.6,471.5 L1182.7,471.9 L1183.8,472.3 L1184.8,472.7 L1185.9,473.1 L1187.0,473.5 L1188.0,473.9 L1189.1,474.2 L1190.2,474.6 L1191.3,475.0 L1192.3,475.3 L1192.6,475.4M1204.0,479.0 L1205.0,479.4 L1206.1,479.7 L1207.2,480.0 L1208.3,480.3 L1209.3,480.6 L1210.4,480.9 L1211.5,481.2 L1212.5,481.5 L1213.6,481.8 L1214.7,482.1 L1214.9,482.2M1226.2,485.2 L1227.3,485.5 L1228.2,485.7" fill="none" stroke="#0a0a0a" stroke-width="3.9" stroke-linejoin="miter"/><path d="M952.7,110.6 L953.5,109.9 L954.3,109.2 L955.1,108.4 L955.9,107.7 L956.8,107.0 L957.6,106.3 L958.4,105.6 L959.2,104.8" fill="none" stroke="#c6282b" stroke-width="4.1"/><rect x="940.5" y="92.5" width="12.9" height="20.9" fill="#fefefe"/><text transform="translate(939.54,114.40) scale(0.7486,1)" font-size="30.53" class="s" fill="#262626">1</text><path d="M1137,361.6 H1227.4" stroke="#f04e23" stroke-width="6" fill="none"/><path d="M1138,362.5 L1106,399.5" stroke="#f04e23" stroke-width="3" fill="none"/><path d="M1105,400.5 L1108.5,386 L1111.5,393.5 L1118.5,395.5 Z" fill="#f04e23" stroke="#f04e23" stroke-width="1.5" stroke-linejoin="round"/><text transform="translate(1083.98,345.15) scale(0.8435,1)" font-size="21.67" class="s" fill="#2c2f42" stroke="#2c2f42" stroke-width="0.85">(InSb 100 nm/Ag 100nm)</text><path d="M761,510 H851" stroke="#000" stroke-width="6" fill="none"/><path d="M762.5,510.5 L734,480" stroke="#000" stroke-width="3.2" fill="none"/><path d="M732.3,477.8 L744.6,482.8 L738.3,485.3 L735.8,491.6 Z" fill="#000" stroke="#000" stroke-width="1.3" stroke-linejoin="round"/><text transform="translate(766.48,495.87) scale(0.8659,1)" font-size="21.11" class="s" fill="#2c2f42" stroke="#2c2f42" stroke-width="0.85">(InSb 10 nm/Ag 100nm)</text>
</g>
</svg>
</div>
</body></html>
